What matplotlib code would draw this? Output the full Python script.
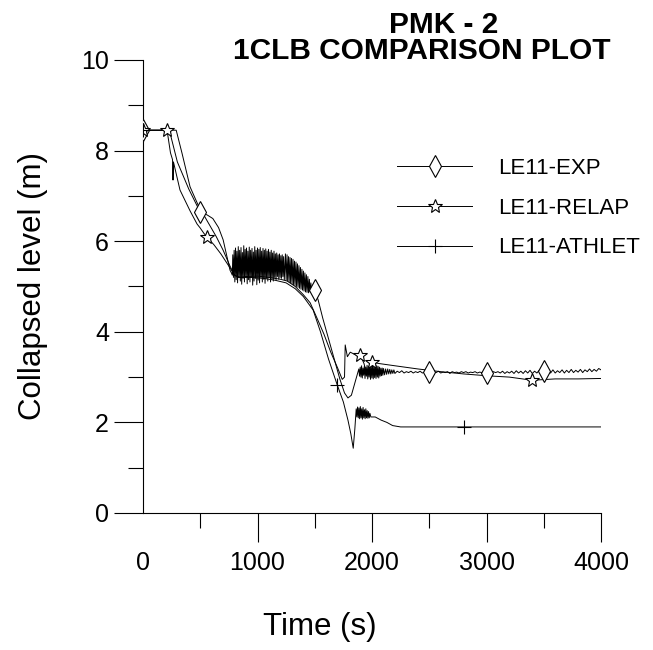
import numpy as np
from matplotlib import pyplot as plt
from matplotlib.lines import Line2D

plt.rcParams['font.family'] = ['Liberation Sans', 'DejaVu Sans']

# LE11-EXP (noisy measured level)
exp_t = [0, 230, 300, 400, 500, 560, 610, 660, 700, 734, 760, 772,
         780, 784, 790, 796, 802, 808, 814, 820, 826, 832, 838, 844, 850, 856, 862, 868, 874, 880, 886, 892,
         898, 904, 910, 916, 922, 928, 934, 940, 946, 952, 958, 964, 970, 976, 982, 988, 994, 1000, 1006, 1012,
         1018, 1024, 1030, 1036, 1042, 1048, 1054, 1060, 1066, 1072, 1078, 1084, 1090, 1096, 1102, 1108, 1114,
         1120, 1126, 1132, 1138, 1144, 1150, 1156, 1162, 1168, 1174, 1180, 1186, 1192, 1198, 1204, 1210, 1216,
         1222, 1228, 1234,
         1244, 1250, 1258, 1263, 1271, 1276, 1284, 1289, 1297, 1302, 1310, 1315, 1323, 1328, 1336, 1341, 1349,
         1354, 1362, 1367, 1375, 1380, 1388, 1393, 1401, 1406, 1414, 1419, 1427, 1432, 1440, 1445, 1453, 1458,
         1466, 1472, 1485, 1500,
         1530, 1570, 1620, 1670, 1720, 1760, 1790, 1820, 1850, 1870, 1885,
         1891, 1897, 1903, 1909, 1915, 1921, 1927, 1933, 1939, 1945, 1951, 1957, 1963, 1969, 1975, 1981, 1987,
         1993, 1999, 2005, 2011, 2017, 2023, 2029, 2035, 2041, 2047, 2053, 2059, 2065, 2071, 2077, 2083, 2089,
         2095, 2101, 2110, 2119, 2128, 2137, 2146, 2155, 2164, 2173, 2182, 2191, 2200,
         2220, 2240, 2260, 2280, 2300, 2320, 2340, 2360, 2380, 2400, 2420, 2440, 2460, 2480, 2500, 2520, 2540,
         2560, 2580, 2600, 2620, 2640, 2660, 2680, 2700, 2720, 2740, 2760, 2780, 2800, 2820, 2840, 2860, 2880,
         2900, 2920, 2940, 2960, 2980, 3000, 3020, 3040, 3060, 3080, 3100, 3120, 3140, 3160, 3180, 3200, 3220,
         3240, 3260, 3280, 3300, 3320, 3340, 3360, 3380, 3400, 3420, 3440, 3460, 3480, 3500, 3520, 3540, 3560,
         3580, 3600, 3620, 3640, 3660, 3680, 3700, 3720, 3740, 3760, 3780, 3800, 3820, 3840, 3860, 3880, 3900,
         3920, 3940, 3960, 3980, 4000]
exp_y = [8.45, 8.45, 7.75, 7.15, 6.64, 6.58, 6.5, 6.3, 6.03, 5.65, 5.36, 5.3,
         5.25, 5.7, 5.2, 5.8, 5.1, 5.85, 5.15, 5.78, 5.08, 5.88, 5.2, 5.8, 5.12, 5.86, 5.05, 5.75, 5.18, 5.9, 5.1, 5.82,
         5.22, 5.85, 5.06, 5.78, 5.15, 5.87, 5.1, 5.8, 5.2, 5.84, 5.03, 5.76, 5.12, 5.88, 5.18, 5.8, 5.04, 5.85, 5.14, 5.82,
         5.08, 5.86, 5.2, 5.78, 5.1, 5.84, 5.16, 5.8, 5.07, 5.83, 5.18, 5.78, 5.12, 5.82, 5.2, 5.76, 5.1,
         5.8, 5.18, 5.74, 5.12, 5.78, 5.2, 5.72, 5.15, 5.74, 5.22, 5.7, 5.16, 5.72, 5.2, 5.68, 5.18, 5.7,
         5.22, 5.66, 5.15,
         5.72, 5.14, 5.7, 5.12, 5.66, 5.1, 5.64, 5.08, 5.62, 5.06, 5.6, 5.04, 5.56, 5.02, 5.54, 5.0, 5.5,
         4.98, 5.46, 4.96, 5.42, 4.94, 5.38, 4.92, 5.34, 4.9, 5.3, 4.88, 5.26, 4.87, 5.22, 4.86, 5.16, 4.88,
         5.08, 4.9, 4.98, 4.92,
         4.7, 4.3, 3.85, 3.4, 2.95, 2.65, 2.54, 2.6, 2.87, 3.05, 3.18,
         3.02, 3.22, 3.0, 3.25, 2.98, 3.2, 3.04, 3.24, 2.97, 3.22, 3.02, 3.26, 2.96, 3.24, 3.0, 3.27, 2.95,
         3.25, 2.98, 3.28, 2.96, 3.24, 2.99, 3.26, 2.97, 3.25, 3.0, 3.24, 2.98, 3.22, 3.02, 3.2, 3.03, 3.2,
         3.04, 3.19, 3.05, 3.18, 3.06, 3.18, 3.07, 3.17, 3.07, 3.16, 3.08, 3.16, 3.08,
         3.13, 3.1, 3.14, 3.09, 3.12, 3.1, 3.13, 3.09, 3.12, 3.1, 3.13, 3.09, 3.11, 3.1, 3.12, 3.09, 3.12,
         3.1, 3.13, 3.09, 3.11, 3.1, 3.12, 3.08, 3.12, 3.1, 3.11, 3.09, 3.12, 3.1, 3.12, 3.09, 3.11, 3.1,
         3.12, 3.09, 3.11, 3.1, 3.12, 3.09, 3.11, 3.09, 3.12, 3.1, 3.12, 3.09, 3.13, 3.08, 3.12, 3.09, 3.13,
         3.08, 3.14, 3.09, 3.13, 3.08, 3.14, 3.09, 3.15, 3.08, 3.13, 3.09, 3.15, 3.08, 3.14, 3.1, 3.15, 3.09,
         3.16, 3.09, 3.14, 3.1, 3.16, 3.09, 3.15, 3.1, 3.17, 3.1, 3.15, 3.11, 3.17, 3.1, 3.16, 3.12, 3.18,
         3.12, 3.17, 3.13, 3.19, 3.16]
exp_mark_t = [0, 500, 1500, 2500, 3000, 3500]
exp_mark_y = [8.45, 6.64, 4.92, 3.12, 3.1, 3.13]

# LE11-RELAP
relap_t = [0, 210, 240, 258, 262, 266, 323, 411, 472, 500, 530, 560, 620, 680, 750, 800, 830, 900, 1000,
           1100, 1200, 1260, 1330, 1400, 1460, 1520, 1580, 1640, 1700, 1740, 1760, 1766, 1785, 1810, 1850,
           1897, 1930, 1955, 1975, 2000, 2060, 2200, 2400, 2600, 2800, 3000, 3200, 3400, 3600, 3800, 4000]
relap_y = [8.45, 8.45, 7.95, 7.8, 7.35, 7.75, 7.13, 6.67, 6.38, 6.29, 6.18, 6.09, 5.92, 5.72, 5.45, 5.25, 5.2,
           5.22, 5.23, 5.2, 5.16, 5.12, 5.0, 4.82, 4.64, 4.3, 3.95, 3.55, 3.2, 2.95, 3.0, 3.71, 3.45, 3.55, 3.5,
           3.49, 3.3, 3.05, 3.15, 3.33, 3.3, 3.25, 3.18, 3.12, 3.07, 3.03, 3.0, 2.93, 2.96, 2.96, 2.97]
relap_mark_t = [0, 210, 560, 1897, 2000, 3400]
relap_mark_y = [8.45, 8.45, 6.09, 3.49, 3.33, 2.93]

# LE11-ATHLET
athlet_t = [0, 290, 340, 411, 481, 560, 640, 700, 760, 800, 850, 950, 1050, 1150, 1250, 1330, 1400, 1486,
            1550, 1620, 1696, 1750, 1790, 1815, 1836, 1850,
            1862, 1868, 1874, 1880, 1886, 1892, 1898, 1904, 1910, 1916, 1922, 1928, 1934, 1940, 1946, 1952,
            1958, 1964, 1970, 1976, 1982, 1990,
            2028, 2080, 2130, 2180, 2250, 2600, 2806, 4000]
athlet_y = [8.45, 8.45, 7.95, 7.2, 6.8, 6.45, 6.1, 5.8, 5.45, 5.25, 5.2, 5.2, 5.18, 5.14, 5.08, 4.95, 4.78, 4.48,
            4.0, 3.4, 2.83, 2.45, 2.05, 1.75, 1.43, 1.85,
            2.3, 2.12, 2.34, 2.1, 2.32, 2.08, 2.35, 2.1, 2.3, 2.07, 2.33, 2.1, 2.28, 2.08, 2.3, 2.1,
            2.26, 2.09, 2.24, 2.1, 2.2, 2.12,
            2.12, 2.05, 2.0, 1.93, 1.9, 1.9, 1.9, 1.9]
athlet_mark_t = [0, 1696, 2806]
athlet_mark_y = [8.45, 2.83, 1.9]

labels = ['LE11-EXP', 'LE11-RELAP', 'LE11-ATHLET']

fig = plt.figure(figsize=(6.53, 6.5), dpi=100)
ax = fig.add_axes([143 / 653, (650 - 513) / 650, (601 - 143) / 653, (513 - 60) / 650])

lw = 0.7
ax.plot(exp_t, exp_y, color='black', lw=lw)
ax.plot(relap_t, relap_y, color='black', lw=lw)
ax.plot(athlet_t, athlet_y, color='black', lw=lw)

mk = dict(mfc='white', mec='black', mew=0.8)
ax.plot(exp_mark_t, exp_mark_y, ls='none', marker='d', ms=11, zorder=3, **mk)
ax.plot(relap_mark_t, relap_mark_y, ls='none', marker='*', ms=10.5, zorder=3, **mk)
ax.plot(athlet_mark_t, athlet_mark_y, ls='none', marker='+', ms=10, mec='black', mew=0.8, zorder=3)

ax.set_xlim(0, 4000)
ax.set_ylim(0, 10)
ax.spines[['top', 'right']].set_visible(False)
for s in ['left', 'bottom']:
    ax.spines[s].set_linewidth(0.8)
ax.set_xticks([0, 1000, 2000, 3000, 4000])
ax.set_xticks([500, 1500, 2500, 3500], minor=True)
ax.set_yticks([0, 2, 4, 6, 8, 10])
ax.set_yticks([1, 3, 5, 7, 9], minor=True)
ax.tick_params(which='major', direction='out', length=21, width=0.8, labelsize=18)
ax.tick_params(which='minor', direction='out', length=10.5, width=0.8)
ax.tick_params(axis='y', which='major', pad=3.5)
ax.tick_params(axis='x', which='major', pad=6.5)
ax.xaxis.get_major_ticks()[0].tick1line.set_visible(False)

ax.set_ylabel('Collapsed level (m)', fontsize=22.5, labelpad=24)
fig.text(320 / 653, 1 - 627 / 650, 'Time (s)', fontsize=22.5, ha='center', va='center')

fig.text(444 / 653, 1 - 25 / 650, 'PMK - 2', fontsize=21.5, fontweight='bold', ha='center', va='center')
fig.text(422 / 653, 1 - 51 / 650, '1CLB COMPARISON PLOT', fontsize=21.5, fontweight='bold',
         ha='center', va='center')

handles = [
    Line2D([], [], color='black', lw=lw, marker='d', ms=11, **mk),
    Line2D([], [], color='black', lw=lw, marker='*', ms=10.5, **mk),
    Line2D([], [], color='black', lw=lw, marker='+', ms=10, mec='black', mew=0.8),
]
leg = ax.legend(handles, labels, loc='center left', bbox_to_anchor=(397 / 653, 1 - 208 / 650),
                bbox_transform=fig.transFigure, frameon=False, fontsize=16, numpoints=1,
                handlelength=3.38, handletextpad=1.17, labelspacing=0.85, borderpad=0, borderaxespad=0)

plt.savefig('out.png', dpi=100)
